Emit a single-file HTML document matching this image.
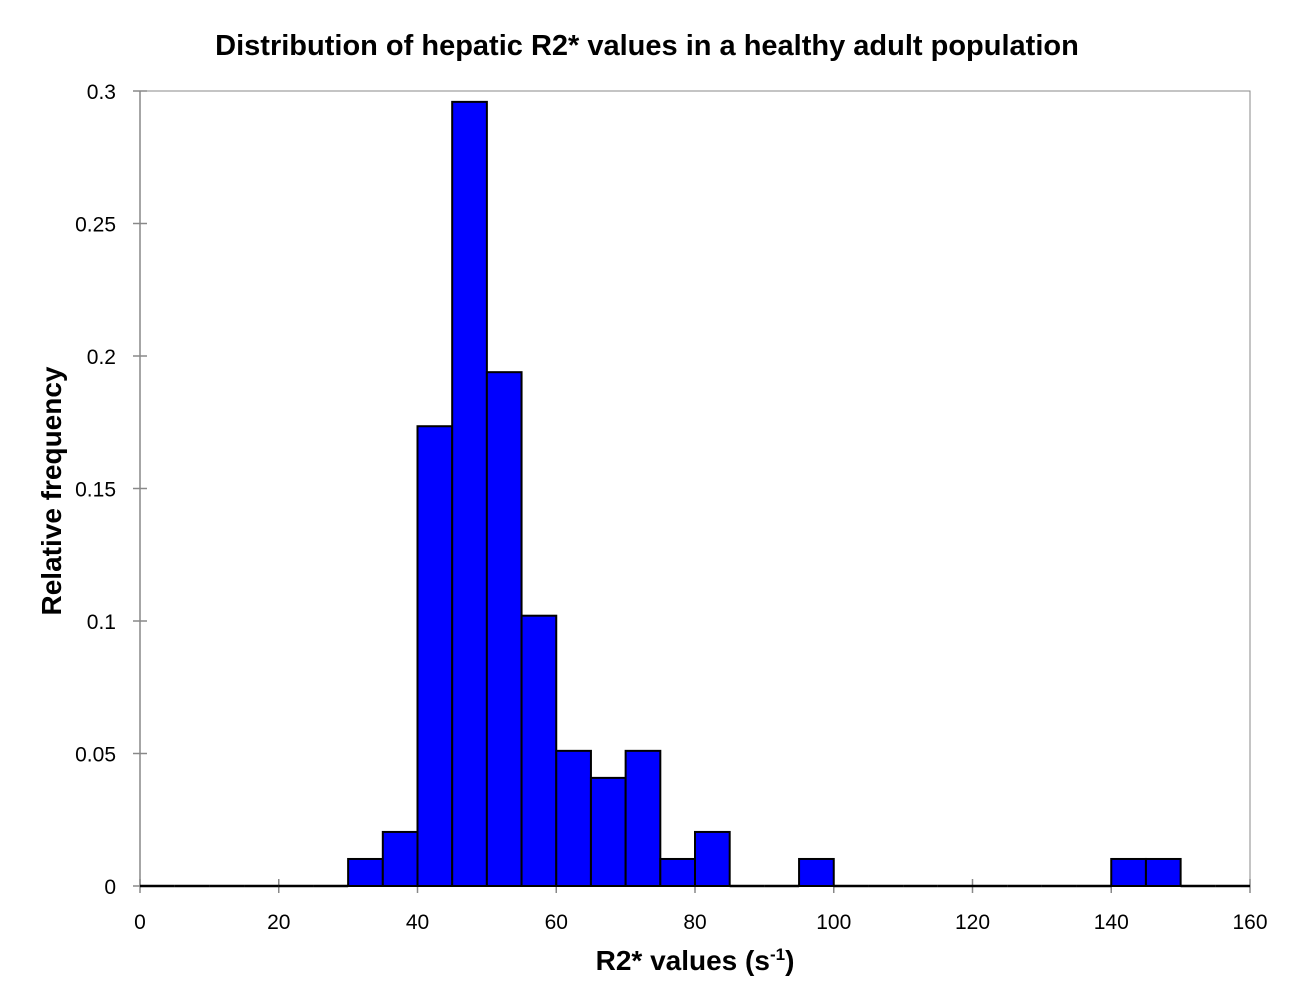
<!DOCTYPE html>
<html><head><meta charset="utf-8"><style>
body{margin:0;background:#fff;}
svg{display:block;font-family:"Liberation Sans",sans-serif;}
</style></head><body>
<svg id="chart" width="1296" height="1005">
<text x="647" y="55" text-anchor="middle" font-size="29" font-weight="bold">Distribution of hepatic R2* values in a healthy adult population</text>
<rect x="140" y="91" width="1110" height="795" fill="none" stroke="#888" stroke-width="1"/>
<g id="yaxis"></g>
<g id="xaxis"></g>
<g id="bars"></g>
<text x="0" y="0" transform="translate(61,491) rotate(-90)" text-anchor="middle" font-size="28" font-weight="bold">Relative frequency</text>
<text x="695" y="970" text-anchor="middle" font-size="28" font-weight="bold">R2* values (s<tspan font-size="17" dy="-10">-1</tspan><tspan dy="10">)</tspan></text>
</svg>
<script>
const binStarts=[0,5,10,15,20,25,30,35,40,45,50,55,60,65,70,75,80,85,90,95,100,105,110,115,120,125,130,135,140,145,150,155];
const freqs=[0,0,0,0,0,0,0.0102,0.0204,0.1735,0.2959,0.1939,0.102,0.051,0.0408,0.051,0.0102,0.0204,0,0,0.0102,0,0,0,0,0,0,0,0,0.0102,0.0102,0,0];
const binWidth=5;
const xTicks=[0,20,40,60,80,100,120,140,160];
const yTicks=[0,0.05,0.1,0.15,0.2,0.25,0.3];
const yTickLabels=["0","0.05","0.1","0.15","0.2","0.25","0.3"];
const X=v=>140+v*(1110/160);
const Y=v=>886-v*(795/0.3);
const NS="http://www.w3.org/2000/svg";
const mk=(t,a,p)=>{const e=document.createElementNS(NS,t);for(const k in a)e.setAttribute(k,a[k]);p.appendChild(e);return e;};
const ya=document.getElementById('yaxis'),xa=document.getElementById('xaxis'),bars=document.getElementById('bars');
mk('line',{x1:140,y1:91,x2:140,y2:886,stroke:'#888','stroke-width':1.5},ya);
yTicks.forEach((v,i)=>{
 const l=mk('line',{x1:133,x2:147,y1:Y(v),y2:Y(v),stroke:'#888','stroke-width':1.5},ya);
 
 
 const t=mk('text',{x:116,y:Y(v)+8,'text-anchor':'end','font-size':21},ya);t.textContent=yTickLabels[i];
 
 
});
xTicks.forEach(v=>{
 const l=mk('line',{x1:X(v),x2:X(v),y1:879,y2:893,stroke:'#888','stroke-width':1.5},xa);
 
 
 const t=mk('text',{x:X(v),y:929,'text-anchor':'middle','font-size':21},xa);t.textContent=v;
 
 
});
binStarts.forEach((s,i)=>{
 const f=freqs[i];
 if(f>0){
  const r=mk('rect',{x:X(s),y:Y(f),width:X(s+binWidth)-X(s),height:Y(0)-Y(f),fill:'#0000ff',stroke:'#000','stroke-width':2},bars);
  
  
 } else {
  const l=mk('line',{x1:X(s),x2:X(s+binWidth),y1:886,y2:886,stroke:'#000','stroke-width':2.5},bars);
  
  
 }
});
</script>
</body></html>
